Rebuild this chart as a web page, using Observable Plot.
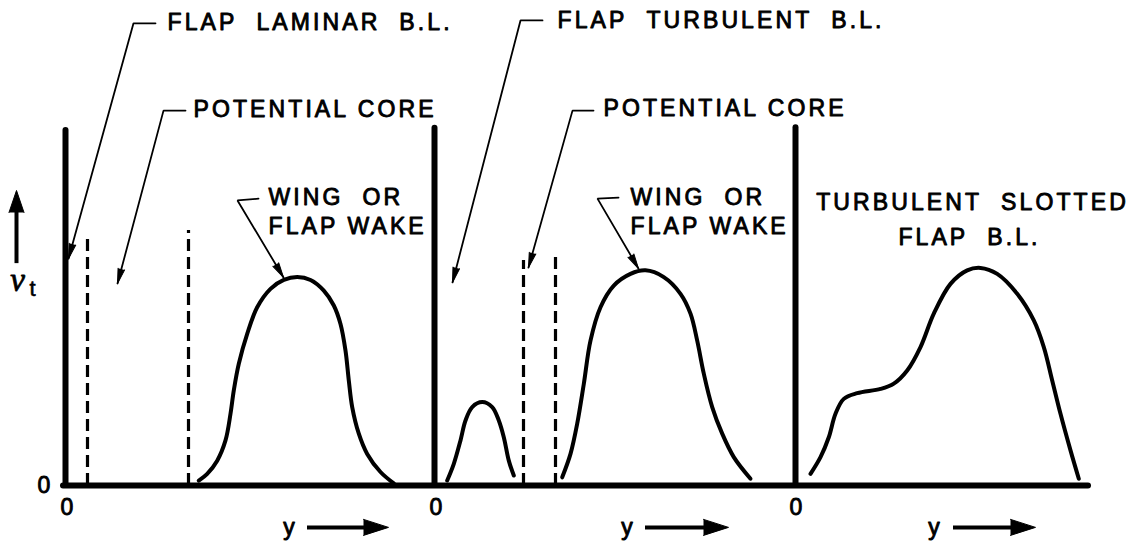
<!DOCTYPE html>
<html><head><meta charset="utf-8">
<script src="https://cdn.jsdelivr.net/npm/d3@7"></script>
<script src="https://cdn.jsdelivr.net/npm/@observablehq/plot@0.6"></script>
<style>
body{margin:0;background:#fff}
g[aria-label="nu symbol"] text{letter-spacing:0}
</style>
</head><body><div id="chart"></div>
<script>
// ---- panel layout (in y units along the common baseline) ----
const panelOrigin = [0, 3.69, 7.30];
const axisTop = [1.0, 1.006, 1.008];

// ---- curves: local y (from each panel's origin) and nu_t ----
const wake1Y  = [1.333,1.417,1.517,1.60,1.65,1.683,1.733,1.817,1.917,2.05,2.183,2.317,2.45,2.583,2.683,2.75,2.80,2.833,2.867,2.933,3.017,3.15,3.283];
const wake1Nu = [0.014,0.033,0.070,0.127,0.202,0.268,0.343,0.427,0.502,0.554,0.579,0.587,0.579,0.549,0.507,0.455,0.380,0.296,0.221,0.146,0.089,0.038,0.006];

const bl2Y  = [0.127,0.193,0.26,0.31,0.377,0.477,0.577,0.643,0.693,0.743,0.793];
const bl2Nu = [0.014,0.061,0.127,0.183,0.221,0.235,0.221,0.183,0.136,0.070,0.028];

const wake2Y  = [1.277,1.36,1.427,1.493,1.56,1.66,1.793,1.96,2.11,2.293,2.46,2.56,2.627,2.693,2.777,2.877,2.993,3.16];
const wake2Nu = [0.023,0.089,0.174,0.286,0.408,0.502,0.563,0.596,0.606,0.587,0.540,0.484,0.408,0.315,0.221,0.146,0.080,0.019];

const slot3Y  = [0.15,0.25,0.333,0.40,0.483,0.617,0.85,0.983,1.117,1.25,1.383,1.55,1.717,1.85,2.017,2.217,2.383,2.483,2.567,2.65,2.75,2.833];
const slot3Nu = [0.033,0.080,0.136,0.202,0.244,0.260,0.272,0.287,0.324,0.390,0.484,0.568,0.606,0.613,0.596,0.540,0.465,0.390,0.296,0.202,0.099,0.019];

// ---- potential-core edges (dashed) ----
const corePanel = [0, 0, 1, 1];
const coreY     = [0.22, 1.23, 0.89, 1.21];
const coreTop   = [0.696, 0.718, 0.634, 0.656];

// ---- labels ----
const labelText   = ["FLAP\u00a0\u00a0LAMINAR\u00a0\u00a0B.L.", "POTENTIAL CORE", "WING\u00a0\u00a0OR", "FLAP WAKE",
                     "FLAP\u00a0\u00a0TURBULENT\u00a0\u00a0B.L.", "POTENTIAL CORE", "WING\u00a0\u00a0OR", "FLAP WAKE",
                     "TURBULENT\u00a0\u00a0SLOTTED", "FLAP\u00a0\u00a0B.L."];
const labelPanel  = [0,0,0,0, 1,1,1,1, 2,2];
const labelY      = [1.02,1.28,2.03,2.03, 1.23,1.69,1.96,1.96, 1.77,1.74];
const labelNu     = [1.305,1.059,0.811,0.728, 1.310,1.063,0.811,0.728, 0.797,0.697];
const labelAnchor = ["start","start","start","start","start","start","start","start","middle","middle"];

// ---- leader lines (panel, then [y, nu] points; last point is the arrow tip) ----
const leaderPanel = [0, 0, 0, 1, 1, 1];
const leaderPts = [
  [[0.90,1.302],[0.68,1.302],[0.03,0.639]],
  [[1.20,1.056],[0.98,1.056],[0.52,0.569]],
  [[1.93,0.808],[1.72,0.803],[2.18,0.586]],
  [[1.08,1.310],[0.86,1.310],[0.18,0.572]],
  [[1.59,1.056],[1.38,1.056],[0.94,0.614]],
  [[1.84,0.811],[1.63,0.808],[2.04,0.611]]
];

// ---- axis annotations ----
const zeroTickY = [0.03, 0.03, 0.02];          // "0" under each panel origin
const yArrowLabelY = [2.25, 1.94, 1.40];       // "y" label per panel
const yArrowFrom = [2.42, 2.11, 1.58];
const yArrowTip  = [3.23, 2.94, 2.40];
const yArrowNu = -0.118;
const zeroTickNu = -0.062;
const nuArrow = {y: -0.49, from: 0.625, tip: 0.831};

// ---- scale geometry ----
const W = 1139, H = 544;
const mL = 65, mR = 51, mT = 130, mB = 59;
const xDomain = [0, 10.23], yDomain = [0, 1];
const pxPerX = (W - mL - mR) / (xDomain[1] - xDomain[0]);
const pxPerY = (H - mT - mB) / (yDomain[1] - yDomain[0]);
const angleOf = (a, b) => Math.atan2((b[0]-a[0])*pxPerX, (b[1]-a[1])*pxPerY) * 180 / Math.PI;

// ---- build tables ----
const curveDefs = [
  {panel:0, id:"wake1", ys:wake1Y, nus:wake1Nu},
  {panel:1, id:"bl2", ys:bl2Y, nus:bl2Nu},
  {panel:1, id:"wake2", ys:wake2Y, nus:wake2Nu},
  {panel:2, id:"slot3", ys:slot3Y, nus:slot3Nu}
];
const curves = curveDefs.flatMap(c => c.ys.map((y, i) => ({id:c.id, x: panelOrigin[c.panel] + y, nu: c.nus[i]})));
const axes = panelOrigin.map((o, i) => ({x:o, top:axisTop[i]}));
const cores = coreY.map((y, i) => ({x: panelOrigin[corePanel[i]] + y, top: coreTop[i]}));
const labels = labelText.map((t, i) => ({text:t, x: panelOrigin[labelPanel[i]] + labelY[i], nu: labelNu[i], anchor: labelAnchor[i]}));
const leaders = leaderPts.flatMap((pts, k) => pts.map(p => ({k, x: panelOrigin[leaderPanel[k]] + p[0], nu: p[1]})));
const leaderHeads = leaderPts.map((pts, k) => {
  const a = pts[pts.length-2], b = pts[pts.length-1];
  return {x: panelOrigin[leaderPanel[k]] + b[0], nu: b[1], rot: angleOf(a, b)};
});
const zeros = zeroTickY.map((y, i) => ({x: panelOrigin[i] + y, nu: zeroTickNu}));
const yLabels = yArrowLabelY.map((y, i) => ({x: panelOrigin[i] + y, nu: yArrowNu}));
const yShafts = yArrowFrom.map((f, i) => ({x1: panelOrigin[i] + f, x2: panelOrigin[i] + yArrowTip[i] - 0.12, nu: yArrowNu}));
const yHeads = yArrowTip.map((t, i) => ({x: panelOrigin[i] + t, nu: yArrowNu}));

const font = "'Liberation Sans', Arial, Helvetica, sans-serif";
const txt = {fontFamily: font, fontSize: 23, fill: "black", stroke: "black", strokeWidth: 0.9};

const chart = Plot.plot({
  width: W, height: H,
  marginLeft: mL, marginRight: mR, marginTop: mT, marginBottom: mB,
  x: {domain: xDomain, axis: null},
  y: {domain: yDomain, axis: null},
  style: {background: "white", letterSpacing: "3.1px", overflow: "visible"},
  marks: [
    // potential core edges
    Plot.ruleX(cores, {x: "x", y1: 0, y2: "top", stroke: "black", strokeWidth: 3.2, strokeDasharray: "12,6"}),
    // nu_t profiles
    Plot.line(curves, {x: "x", y: "nu", z: "id", curve: "catmull-rom", stroke: "black", strokeWidth: 4, strokeLinecap: "round", strokeLinejoin: "round"}),
    // vertical axes and common baseline
    Plot.ruleX(axes, {x: "x", y1: 0, y2: "top", stroke: "black", strokeWidth: 6, strokeLinecap: "round"}),
    Plot.ruleY([0], {x1: -0.02, x2: xDomain[1], stroke: "black", strokeWidth: 6, strokeLinecap: "round"}),
    // leaders
    Plot.line(leaders, {x: "x", y: "nu", z: "k", stroke: "black", strokeWidth: 1.8, strokeLinejoin: "miter"}),
    Plot.vector(leaderHeads, {x: "x", y: "nu", rotate: "rot", shape: "spike", anchor: "end", length: 15, r: 3.4, fill: "black", stroke: "black", strokeWidth: 1}),
    // labels
    Plot.text(labels.filter(d => d.anchor === "start"), {x: "x", y: "nu", text: "text", textAnchor: "start", ...txt}),
    Plot.text(labels.filter(d => d.anchor === "middle"), {x: "x", y: "nu", text: "text", textAnchor: "middle", ...txt}),
    // zero labels
    Plot.text(zeros, {x: "x", y: "nu", text: () => "0", ...txt}),
    Plot.text([{x: -0.20, nu: 0}], {x: "x", y: "nu", text: () => "0", ...txt}),
    // y arrows
    Plot.text(yLabels, {x: "x", y: "nu", text: () => "y", ...txt}),
    Plot.ruleY(yShafts, {x1: "x1", x2: "x2", y: "nu", stroke: "black", strokeWidth: 4}),
    Plot.vector(yHeads, {x: "x", y: "nu", rotate: 90, shape: "spike", anchor: "end", length: 25, r: 8, fill: "black", stroke: "black", strokeWidth: 1}),
    // nu_t arrow and symbol
    Plot.ruleX([nuArrow], {x: "y", y1: "from", y2: d => d.tip - 0.04, stroke: "black", strokeWidth: 4}),
    Plot.vector([nuArrow], {x: "y", y: "tip", rotate: 0, shape: "spike", anchor: "end", length: 22, r: 7.5, fill: "black", stroke: "black", strokeWidth: 1}),
    Plot.text([{x: -0.465, nu: 0.578}], {x: "x", y: "nu", text: () => "\u03bd", fontFamily: "'Liberation Serif', 'DejaVu Serif', serif", fontStyle: "italic", fontSize: 33, fill: "black", stroke: "black", strokeWidth: 0.8, ariaLabel: "nu symbol"}),
    Plot.text([{x: -0.315, nu: 0.553}], {x: "x", y: "nu", text: () => "t", fontFamily: font, fontSize: 22, fill: "black", stroke: "black", strokeWidth: 0.6, ariaLabel: "nu symbol"})
  ]
});
document.getElementById("chart").appendChild(chart);
</script>
</body></html>
